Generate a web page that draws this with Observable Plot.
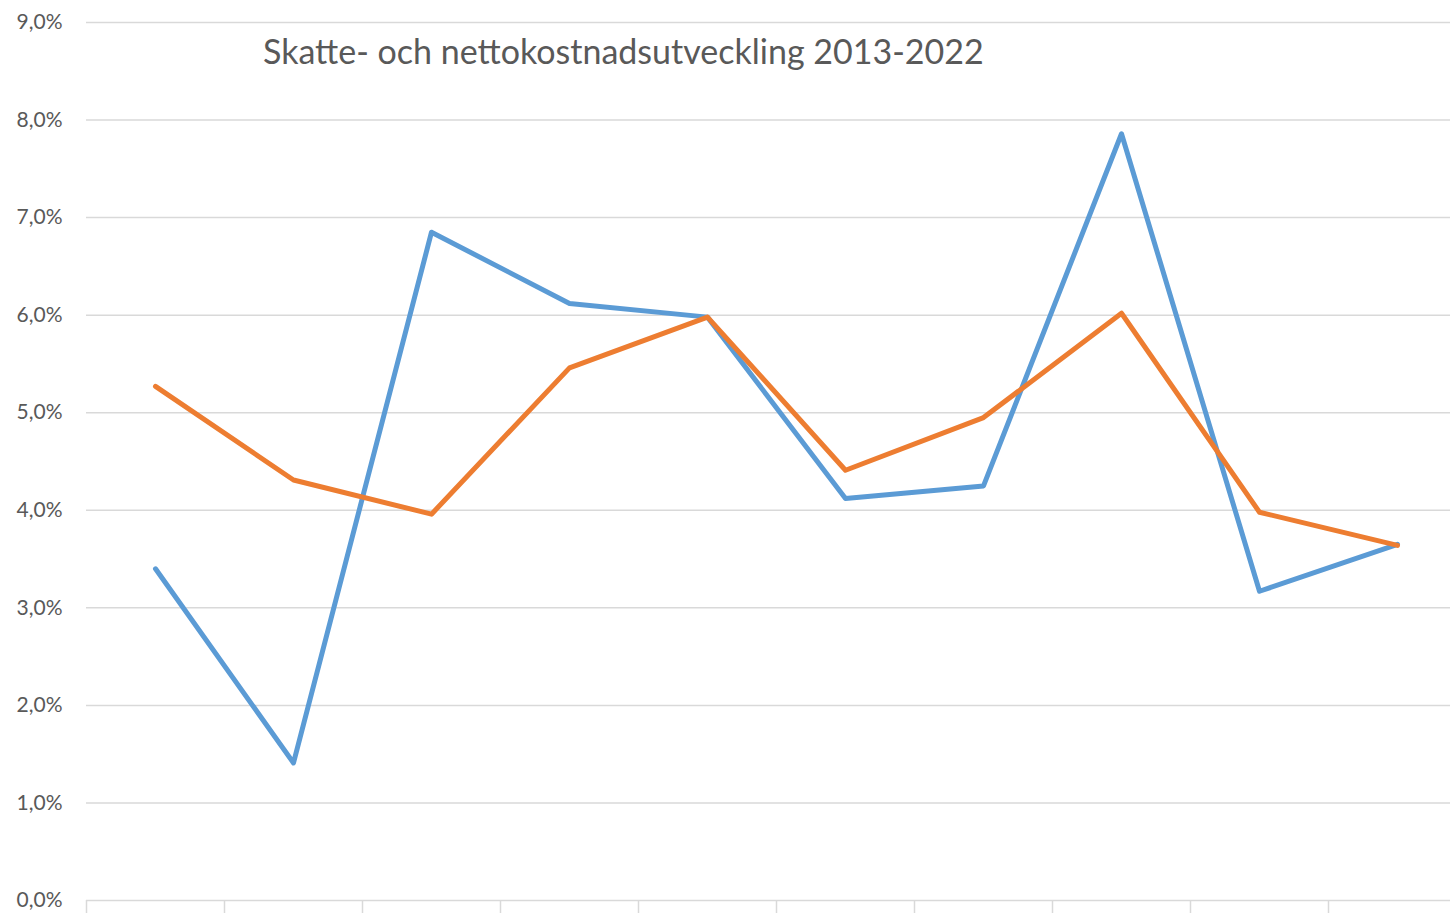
<!DOCTYPE html>
<html>
<head>
<meta charset="utf-8">
<script src="https://cdn.jsdelivr.net/npm/d3@7"></script>
<script src="https://cdn.jsdelivr.net/npm/@observablehq/plot@0.6"></script>
<style>
  html, body { margin: 0; padding: 0; background: #fff; overflow: hidden; width: 1450px; height: 913px; }
  #wrap { position: relative; width: 1466px; height: 913px; }
  #title { position: absolute; left: 263px; top: 30px; font-family: Lato, sans-serif; font-size: 34px; color: #595959; white-space: nowrap; }
</style>
</head>
<body>
<div id="wrap">
  <div id="chart"></div>
  <div id="title">Skatte- och nettokostnadsutveckling 2013-2022</div>
</div>
<script>
const years = [2013, 2014, 2015, 2016, 2017, 2018, 2019, 2020, 2021, 2022];
const skatt = [3.40, 1.41, 6.85, 6.12, 5.98, 4.12, 4.25, 7.86, 3.17, 3.65];
const netto = [5.27, 4.31, 3.96, 5.46, 5.98, 4.41, 4.95, 6.02, 3.98, 3.64];
const yTicks = [0, 1, 2, 3, 4, 5, 6, 7, 8, 9];
const seriesNames = ["Skatteutveckling", "Nettokostnadsutveckling"];
const seriesColors = ["#5B9BD5", "#ED7D31"];

const rows = [];
years.forEach((yr, i) => rows.push({year: yr, pos: i + 0.5, value: skatt[i], series: seriesNames[0]}));
years.forEach((yr, i) => rows.push({year: yr, pos: i + 0.5, value: netto[i], series: seriesNames[1]}));

const fmt = v => v.toFixed(1).replace(".", ",") + "%";
const boundaries = d3.range(0, years.length + 1);

const chart = Plot.plot({
  width: 1466,
  height: 940,
  marginLeft: 86,
  marginRight: 0,
  marginTop: 22,
  marginBottom: 40,
  style: {fontFamily: "Lato, sans-serif", background: "#fff"},
  x: {domain: [0, years.length], axis: null, label: null},
  y: {domain: [0, 9], axis: null, label: null},
  color: {domain: seriesNames, range: seriesColors},
  marks: [
    Plot.ruleY(yTicks, {stroke: "#d9d9d9", strokeWidth: 1.5}),
    Plot.axisY({ticks: yTicks, tickSize: 0, tickPadding: 24, tickFormat: fmt, fontSize: 21, fill: "#595959", label: null}),
    Plot.axisX({ticks: boundaries, tickSize: 14, tickFormat: () => "", stroke: "#d9d9d9", strokeWidth: 1.5, label: null}),
    Plot.lineY(rows, {x: "pos", y: "value", z: "series", stroke: "series", strokeWidth: 5, strokeLinecap: "round", strokeLinejoin: "round"})
  ]
});
document.getElementById("chart").appendChild(chart);
</script>
</body>
</html>
